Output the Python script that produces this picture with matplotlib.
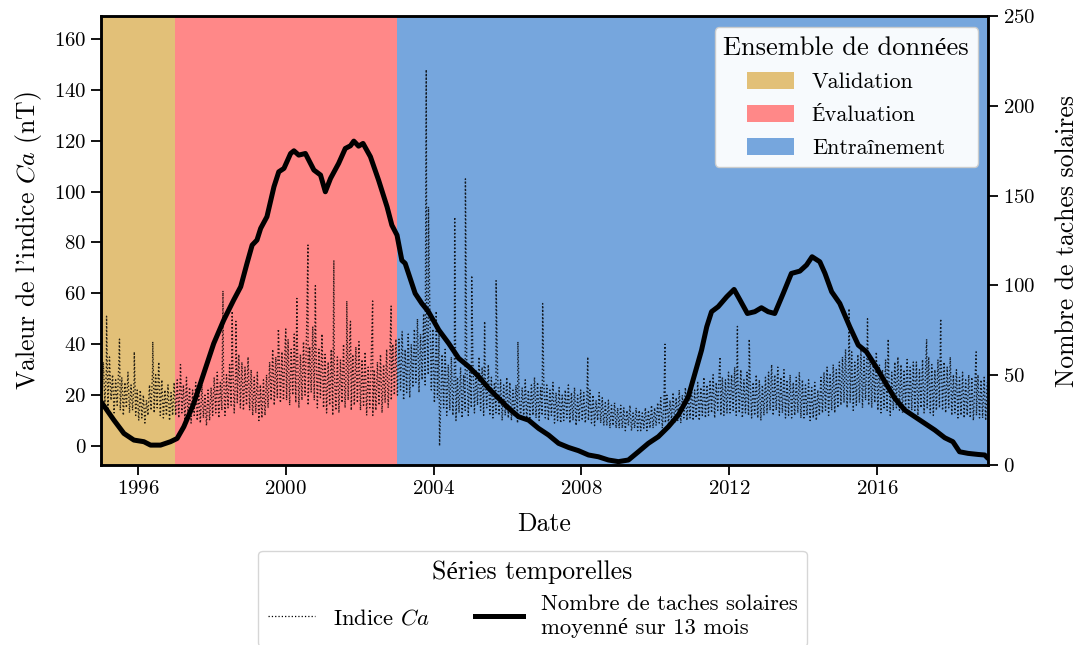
import numpy as np
import matplotlib
matplotlib.use("Agg")
import matplotlib.pyplot as plt
from matplotlib.patches import Patch
from matplotlib.lines import Line2D

plt.rcParams['font.family'] = ['cmr10', 'Liberation Serif']
plt.rcParams['mathtext.fontset'] = 'cm'
plt.rcParams['axes.formatter.use_mathtext'] = True

# ---------------- data ----------------
years = list(range(1995, 2019))
# monthly core band of the daily Ca index (nT)
ca_hi = [
    [33, 30, 35, 28, 26, 31, 27, 25, 29, 24, 26, 22],  # 1995
    [22, 20, 18, 24, 30, 28, 33, 26, 22, 24, 21, 25],  # 1996
    [26, 28, 24, 27, 23, 22, 25, 21, 24, 20, 22, 23],  # 1997
    [27, 29, 25, 30, 28, 32, 34, 30, 36, 33, 31, 35],  # 1998
    [30, 27, 29, 24, 26, 28, 33, 38, 35, 40, 37, 39],  # 1999
    [42, 38, 44, 40, 36, 41, 45, 39, 47, 42, 38, 44],  # 2000
    [36, 33, 38, 30, 35, 34, 40, 37, 42, 36, 39, 41],  # 2001
    [34, 37, 31, 35, 30, 33, 36, 32, 38, 34, 40, 42],  # 2002
    [42, 45, 38, 44, 40, 46, 50, 44, 52, 48, 55, 46],  # 2003
    [40, 44, 36, 38, 32, 35, 30, 27, 31, 28, 33, 29],  # 2004
    [33, 30, 35, 31, 28, 32, 27, 25, 29, 26, 24, 27],  # 2005
    [25, 22, 24, 21, 23, 26, 22, 24, 27, 25, 23, 26],  # 2006
    [24, 22, 25, 21, 23, 20, 22, 24, 21, 23, 20, 22],  # 2007
    [21, 19, 22, 20, 18, 21, 19, 17, 18, 16, 17, 15],  # 2008
    [16, 15, 14, 16, 13, 15, 14, 13, 15, 14, 16, 15],  # 2009
    [17, 19, 16, 20, 18, 21, 19, 22, 20, 23, 21, 24],  # 2010
    [22, 25, 23, 27, 24, 26, 28, 25, 30, 27, 26, 29],  # 2011
    [28, 31, 27, 30, 26, 29, 27, 25, 28, 26, 24, 27],  # 2012
    [29, 32, 28, 31, 27, 30, 26, 28, 25, 27, 29, 26],  # 2013
    [24, 26, 23, 25, 22, 27, 29, 31, 28, 32, 30, 33],  # 2014
    [35, 38, 34, 37, 33, 36, 38, 35, 39, 36, 34, 37],  # 2015
    [32, 30, 34, 31, 29, 33, 35, 32, 30, 34, 31, 33],  # 2016
    [33, 30, 34, 31, 35, 32, 30, 34, 36, 33, 31, 35],  # 2017
    [28, 30, 27, 29, 26, 28, 27, 25, 28, 26, 27, 25],  # 2018
]
ca_lo = [
    [15, 17, 14, 18, 13, 16, 14, 12, 15, 13, 14, 12],  # 1995
    [10, 11, 9, 12, 14, 13, 15, 12, 11, 12, 10, 12],   # 1996
    [12, 11, 13, 10, 11, 9, 12, 10, 9, 11, 8, 10],     # 1997
    [12, 13, 11, 14, 12, 15, 16, 13, 17, 15, 14, 16],  # 1998
    [14, 12, 13, 10, 11, 12, 15, 18, 16, 19, 17, 18],  # 1999
    [18, 16, 20, 17, 15, 18, 20, 16, 21, 18, 15, 19],  # 2000
    [15, 13, 16, 12, 14, 13, 17, 15, 18, 14, 16, 17],  # 2001
    [14, 16, 12, 15, 12, 14, 16, 13, 17, 15, 18, 20],  # 2002
    [20, 22, 18, 21, 19, 23, 25, 21, 26, 24, 28, 22],  # 2003
    [17, 19, 14, 15, 12, 14, 12, 10, 13, 11, 14, 12],  # 2004
    [15, 13, 16, 14, 12, 15, 12, 11, 13, 12, 10, 12],  # 2005
    [11, 10, 12, 9, 11, 12, 10, 11, 12, 11, 10, 12],   # 2006
    [11, 10, 12, 9, 10, 9, 10, 11, 9, 10, 8, 10],      # 2007
    [10, 9, 10, 9, 8, 10, 9, 8, 8, 7, 8, 7],           # 2008
    [7, 7, 6, 8, 6, 7, 6, 6, 7, 6, 7, 7],              # 2009
    [8, 9, 7, 9, 8, 10, 9, 10, 9, 11, 10, 11],         # 2010
    [10, 11, 10, 12, 11, 12, 13, 11, 14, 12, 12, 13],  # 2011
    [13, 14, 12, 13, 11, 13, 12, 11, 12, 11, 10, 12],  # 2012
    [13, 14, 12, 14, 12, 13, 11, 12, 11, 12, 13, 11],  # 2013
    [11, 12, 10, 11, 10, 12, 13, 14, 12, 14, 13, 15],  # 2014
    [16, 17, 15, 17, 14, 16, 17, 15, 18, 16, 15, 17],  # 2015
    [14, 13, 15, 14, 12, 14, 15, 14, 13, 15, 13, 14],  # 2016
    [14, 12, 15, 13, 15, 13, 12, 14, 15, 14, 13, 15],  # 2017
    [12, 13, 11, 12, 11, 12, 11, 10, 12, 11, 11, 10],  # 2018
]
# isolated Ca spikes (decimal year, nT)
spike_t = [1995.15, 1995.50, 1995.90, 1996.40, 1997.15, 1998.30, 1998.55, 1998.65,
           1999.80, 2000.00, 2000.30, 2000.60, 2000.80, 2001.30, 2001.65, 2001.75,
           2002.35, 2002.85, 2003.15, 2003.80, 2003.86, 2004.07, 2004.16, 2004.57,
           2004.86, 2005.03, 2005.38, 2005.69, 2006.28, 2006.95, 2008.17, 2010.26,
           2011.75, 2012.22, 2012.54, 2015.24, 2015.74, 2016.30, 2017.34, 2017.72,
           2018.68]
spike_v = [51, 42, 37, 41, 32, 61, 53, 49,
           46, 46, 58, 79, 63, 73, 57, 49,
           57, 55, 45, 148, 94, 53, 0, 90,
           105, 67, 49, 65, 41, 56, 35, 40,
           35, 47, 42, 54, 50, 42, 42, 50,
           37]

# 13-month smoothed sunspot number
ssn_t = [1995.00, 1995.35, 1995.62, 1995.89, 1996.16, 1996.34, 1996.61, 1996.88,
         1997.06, 1997.24, 1997.51, 1997.78, 1998.05, 1998.32, 1998.59, 1998.78,
         1998.95, 1999.09, 1999.22, 1999.32, 1999.49, 1999.68, 1999.81, 1999.95,
         2000.13, 2000.22, 2000.35, 2000.53, 2000.76, 2000.94, 2001.07, 2001.21,
         2001.43, 2001.61, 2001.75, 2001.84, 2001.97, 2002.09, 2002.29, 2002.51,
         2002.74, 2002.87, 2003.01, 2003.14, 2003.23, 2003.50, 2003.68, 2003.86,
         2004.14, 2004.41, 2004.68, 2004.95, 2005.22, 2005.49, 2005.76, 2006.03,
         2006.30, 2006.57, 2006.84, 2007.11, 2007.38, 2007.65, 2007.92, 2008.19,
         2008.46, 2008.73, 2009.00, 2009.27, 2009.54, 2009.81, 2010.08, 2010.35,
         2010.62, 2010.89, 2011.07, 2011.25, 2011.39, 2011.52, 2011.70, 2011.93,
         2012.13, 2012.29, 2012.49, 2012.69, 2012.87, 2013.05, 2013.23, 2013.46,
         2013.68, 2013.91, 2014.09, 2014.24, 2014.45, 2014.59, 2014.77, 2014.99,
         2015.26, 2015.49, 2015.71, 2015.94, 2016.21, 2016.48, 2016.75, 2017.02,
         2017.29, 2017.56, 2017.83, 2018.05, 2018.23, 2018.46, 2018.73, 2018.91,
         2019.00]
ssn_v = [35.3, 25.0, 17.6, 13.9, 13.0, 11.1, 11.1, 13.0,
         14.8, 21.3, 34.3, 51.0, 67.7, 80.7, 91.9, 99.3,
         112.3, 122.5, 125.3, 131.8, 138.3, 155.0, 163.3, 165.2,
         173.5, 175.0, 172.6, 173.5, 164.3, 161.5, 152.2, 159.6,
         168.0, 176.3, 177.8, 180.4, 177.6, 179.1, 171.7, 158.7,
         143.8, 133.6, 128.0, 114.0, 112.3, 95.6, 90.0, 85.4,
         75.2, 67.7, 59.4, 54.8, 49.2, 42.7, 37.1, 31.6,
         26.9, 25.0, 20.4, 16.7, 12.1, 9.8, 8.0, 5.6,
         4.6, 2.8, 1.9, 2.8, 7.4, 12.1, 15.8, 21.3,
         27.8, 38.0, 51.0, 64.0, 77.0, 85.4, 88.2, 93.7,
         97.8, 91.9, 84.4, 85.4, 87.6, 85.4, 84.4, 95.6,
         106.7, 108.0, 111.4, 116.0, 113.2, 106.7, 96.5, 90.0,
         77.0, 66.8, 63.1, 55.7, 46.4, 37.1, 30.6, 26.9,
         23.2, 19.5, 15.2, 13.0, 7.4, 6.5, 5.9, 5.6,
         3.7]

set_names = ["Validation", "Évaluation", "Entraînement"]
set_start = [1995, 1997, 2003]
set_end = [1997, 2003, 2019]
set_colors = ["#e2c078", "#ff8888", "#76a6dd"]

# ---------------- build Ca line ----------------
pts = []
for yi, y in enumerate(years):
    for m in range(12):
        base = y + m / 12.0
        pts.append((base + 0.25 / 12, ca_lo[yi][m]))
        pts.append((base + 0.75 / 12, ca_hi[yi][m]))
for t, v in zip(spike_t, spike_v):
    pts.append((t, v))
pts.sort(key=lambda p: p[0])
ca_t = np.array([p[0] for p in pts])
ca_v = np.array([p[1] for p in pts])

# ---------------- figure ----------------
fig = plt.figure(figsize=(10.78, 6.45), dpi=100)
ax = fig.add_axes([0.0937, 0.279, 0.8228, 0.696])
ax2 = ax.twinx()

for name, s, e, c in zip(set_names, set_start, set_end, set_colors):
    ax.axvspan(s, e, color=c, lw=0, zorder=0)

ax.plot(ca_t, ca_v, color="black", ls=":", lw=1.0, alpha=0.85, zorder=2)
ax2.plot(ssn_t, ssn_v, color="black", lw=3.6, solid_capstyle="round", zorder=3)

ax.set_xlim(1995, 2019)
ax.set_ylim(-7.5, 169)
ax2.set_ylim(0, 250)
ax.set_xticks([1996, 2000, 2004, 2008, 2012, 2016])
ax.set_yticks(range(0, 161, 20))
ax2.set_yticks(range(0, 251, 50))

for a in (ax, ax2):
    a.tick_params(labelsize=15, length=7, width=1.3, pad=3.5, direction="out")
    for sp in a.spines.values():
        sp.set_linewidth(1.8)

ax.set_xlabel("Date", fontsize=18.5)
ax.set_ylabel("Valeur de l'indice $Ca$ (nT)", fontsize=18.5)
ax2.set_ylabel("Nombre de taches solaires", fontsize=18.5)
ax.xaxis.set_label_coords(0.5, -0.105)
ax.yaxis.set_label_coords(-0.064, 0.5)
ax2.yaxis.set_label_coords(1.0755, 0.5)

handles = [Patch(facecolor=c, edgecolor="none") for c in set_colors]
leg = ax2.legend(handles, set_names, title="Ensemble de données", loc="upper right",
                 fontsize=16, title_fontsize=19, framealpha=0.95, fancybox=True,
                 edgecolor="#cccccc", bbox_to_anchor=(0.9887, 0.9755),
                 borderaxespad=0.0, handlelength=2.1, handleheight=0.8,
                 labelspacing=0.56)
leg.set_zorder(10)

h2 = [Line2D([], [], color="black", ls=":", lw=0.9),
      Line2D([], [], color="black", lw=3.6)]
fig.legend(h2, ["Indice $Ca$", "Nombre de taches solaires\nmoyenné sur 13 mois"],
           title="Séries temporelles", loc="upper center",
           bbox_to_anchor=(0.494, 0.146), borderaxespad=0.0, ncol=2, fontsize=16.3,
           title_fontsize=18.5, frameon=True, fancybox=True, edgecolor="#cccccc",
           handlelength=2.1, columnspacing=2.0)

fig.savefig("out.png", dpi=100)
